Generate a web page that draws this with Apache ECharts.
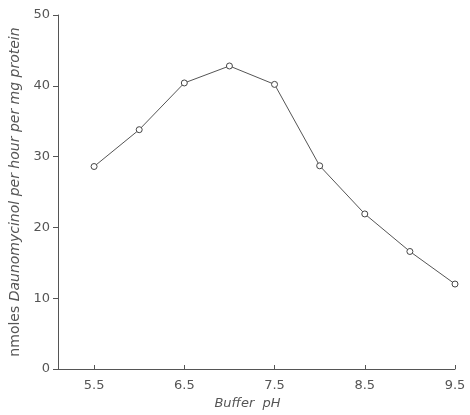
<!DOCTYPE html>
<html>
<head>
<meta charset="utf-8">
<script src="https://cdn.jsdelivr.net/npm/echarts@6/dist/echarts.min.js"></script>
<style>html,body{margin:0;padding:0;background:#fff}#c{width:470px;height:415px}</style>
</head>
<body>
<div id="c"></div>
<script>
const phValues = [5.5, 6.0, 6.5, 7.0, 7.5, 8.0, 8.5, 9.0, 9.5];
const activity = [28.6, 33.8, 40.4, 42.8, 40.2, 28.7, 21.9, 16.6, 12.0];
const xTickValues = [5.5, 6.5, 7.5, 8.5, 9.5];
const yTickValues = [0, 10, 20, 30, 40, 50];

const chart = echarts.init(document.getElementById('c'), null, {renderer: 'canvas'});
const ink = '#555';
const font = 'DejaVu Sans';
chart.setOption({
  backgroundColor: '#fff',
  animation: false,
  grid: {left: 57, right: 15, top: 15, bottom: 43},
  xAxis: {
    type: 'value', min: 5.1, max: 9.5,
    name: 'Buffer  pH', nameLocation: 'middle', nameGap: 28,
    nameTextStyle: {color: ink, fontSize: 13, fontStyle: 'italic', fontFamily: font, padding: [0, 18, 0, 0]},
    axisLine: {show: true, lineStyle: {color: ink, width: 1}},
    axisTick: {show: true, inside: true, length: 4, customValues: xTickValues, lineStyle: {color: ink}},
    axisLabel: {customValues: xTickValues, color: ink, fontSize: 13, fontFamily: font, margin: 10,
      formatter: v => v.toFixed(1)},
    splitLine: {show: false}
  },
  yAxis: {
    type: 'value', min: 0, max: 50, interval: 10,
    name: '{a|nmoles} {b|Daunomycinol per hour per mg protein}',
    nameLocation: 'middle', nameGap: 36,
    nameTextStyle: {color: ink, fontSize: 14, fontFamily: font,
      rich: {a: {color: ink, fontSize: 14, fontFamily: font},
             b: {color: ink, fontSize: 14, fontFamily: font, fontStyle: 'italic'}}},
    axisLine: {show: true, lineStyle: {color: ink, width: 1}},
    axisTick: {show: true, inside: false, length: 5, lineStyle: {color: ink}},
    axisLabel: {color: ink, fontSize: 13, fontFamily: font, margin: 8},
    splitLine: {show: false}
  },
  series: [{
    type: 'line',
    data: phValues.map((x, i) => [x, activity[i]]),
    symbol: 'circle', symbolSize: 6,
    itemStyle: {color: '#fff', borderColor: '#444', borderWidth: 1},
    lineStyle: {color: '#555', width: 1}
  }]
});
</script>
</body>
</html>
